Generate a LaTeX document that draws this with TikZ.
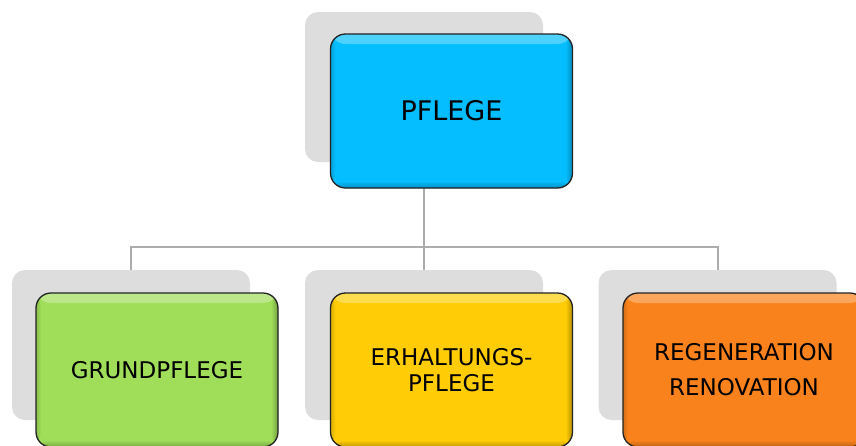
\documentclass[tikz,border=0pt]{standalone}
\usepackage{fontspec}
\setmainfont{DejaVu Sans}
\definecolor{cblue}{RGB}{5,190,255}
\definecolor{cgreen}{RGB}{160,222,90}
\definecolor{cyellow}{RGB}{255,204,5}
\definecolor{corange}{RGB}{250,130,28}
\definecolor{cshadow}{RGB}{221,221,221}
\definecolor{cline}{RGB}{172,172,172}
\definecolor{cborder}{RGB}{35,35,35}
\tikzset{
  shadowbox/.style={fill=cshadow, rounded corners=13pt, minimum width=238pt, minimum height=150pt, inner sep=0pt},
  colbox/.style={fill=#1, draw=cborder, line width=1.3pt, rounded corners=15pt,
    minimum width=242pt, minimum height=154pt, inner sep=0pt, align=center,
    path picture={
      \shade[top color=#1!70!white, bottom color=#1]
        (path picture bounding box.north west) rectangle ([yshift=-10pt]path picture bounding box.north east);
      \shade[left color=#1, right color=#1!72!black]
        ([xshift=-7pt]path picture bounding box.south east) rectangle (path picture bounding box.north east);
      \shade[right color=#1, left color=#1!85!black]
        ([xshift=5pt]path picture bounding box.south west) rectangle (path picture bounding box.north west);
      \shade[top color=#1, bottom color=#1!75!black]
        ([yshift=7pt]path picture bounding box.south west) rectangle (path picture bounding box.south east);
    }},
  conn/.style={draw=cline, line width=2pt}
}
\begin{document}
\begin{tikzpicture}[x=1pt,y=-1pt]
\useasboundingbox (0,0) rectangle (856,445);
\clip (0,0) rectangle (856,445);
% shadow panels
\node[shadowbox] (s0) at (424,87) {};
\node[shadowbox] (s1) at (131,345) {};
\node[shadowbox] (s2) at (424,345) {};
\node[shadowbox] (s3) at (717.5,345) {};
% connectors
\coordinate (j) at (424,247);
\draw[conn] (s0.south) -- (j);
\draw[conn] (j) -| (s1.north);
\draw[conn] (j) -- (s2.north);
\draw[conn] (j) -| (s3.north);
% coloured boxes
\node[colbox=cblue, font=\fontsize{27}{32}\selectfont] (top) at (451.5,111) {PFLEGE};
\node[colbox=cgreen, font=\fontsize{23}{26}\selectfont] (b1) at (157,370) {GRUNDPFLEGE};
\node[colbox=cyellow, font=\fontsize{23}{26}\selectfont] (b2) at (451.5,370) {ERHALTUNGS-\\PFLEGE};
\node[colbox=corange, font=\fontsize{23}{35}\selectfont] (b3) at (744,370) {REGENERATION\\RENOVATION};
\end{tikzpicture}
\end{document}
